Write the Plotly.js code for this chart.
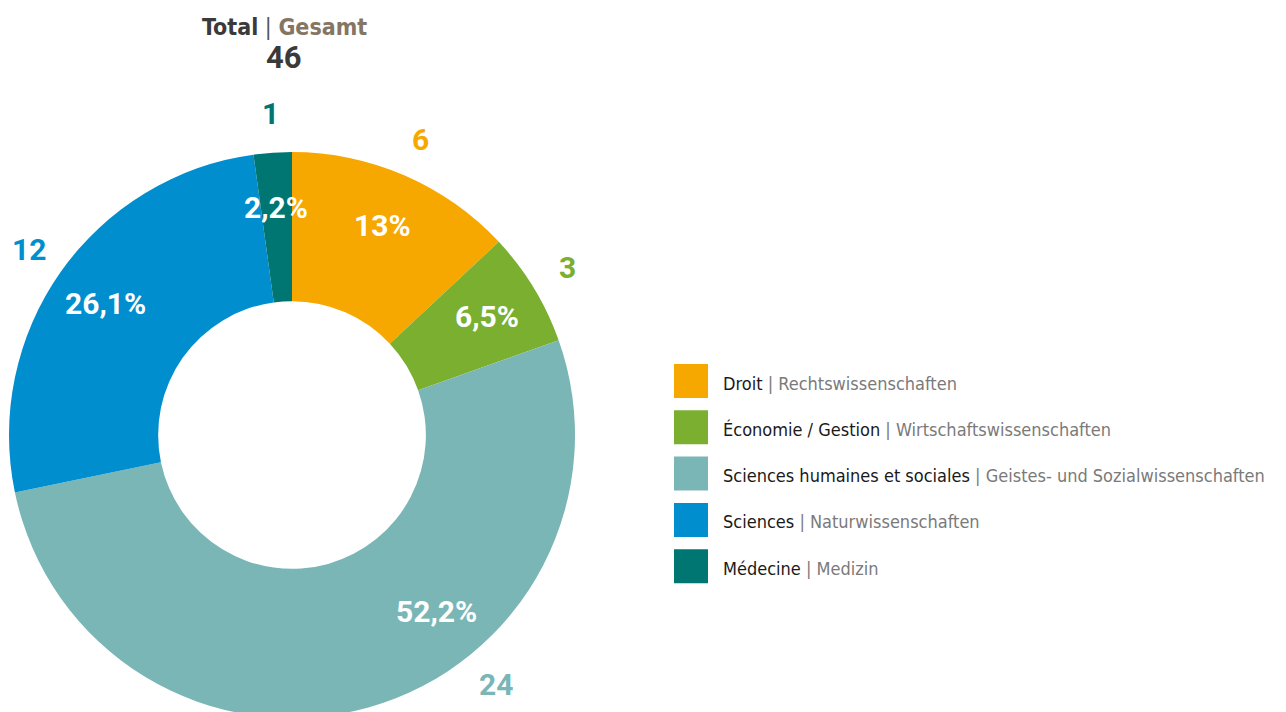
<!DOCTYPE html>
<html>
<head>
<meta charset="utf-8">
<script src="https://cdn.plot.ly/plotly-3.0.1.min.js"></script>
<style>
  html, body { margin: 0; padding: 0; overflow: hidden; background: #fff; }
  #chart { width: 1286px; height: 718px; }
</style>
</head>
<body>
<div id="chart"></div>
<script>
// ---- data ----
const categoriesFr = ["Droit", "Économie / Gestion", "Sciences humaines et sociales", "Sciences", "Médecine"];
const categoriesDe = ["Rechtswissenschaften", "Wirtschaftswissenschaften", "Geistes- und Sozialwissenschaften", "Naturwissenschaften", "Medizin"];
const counts = [6, 3, 24, 12, 1];
const colors = ["#F7A800", "#7AAF2F", "#7AB6B5", "#008ECE", "#007672"];
const titleFr = "Total";
const titleDe = "Gesamt";

// ---- layout constants ----
const W = 1286, H = 718;
const cx = 292, cy = 435, R = 283;
const rInside = 228, rOutside = 322;
const maxLabelY = 684;
const total = counts.reduce((a, b) => a + b, 0);

function fmtPct(v) {
  let s = (v / total * 100).toFixed(1);
  if (s.endsWith(".0")) s = s.slice(0, -2);
  return s.replace(".", ",") + "%";
}
function toPaper(px, py) { return { x: px / W, y: 1 - py / H }; }
function polar(angDeg, r) {
  const a = angDeg * Math.PI / 180;
  return toPaper(cx + r * Math.sin(a), cy - r * Math.cos(a));
}

const annotations = [];
let cum = 0;
counts.forEach((v, i) => {
  let mid = (cum + v / 2) / total * 360;
  cum += v;
  // keep labels inside the visible canvas
  const yOut = cy - rOutside * Math.cos(mid * Math.PI / 180);
  if (yOut > maxLabelY) {
    const c = (cy - maxLabelY) / rOutside;
    const lim = Math.acos(c) * 180 / Math.PI;
    mid = mid < 180 ? lim : 360 - lim;
  }
  const pin = polar(mid, rInside);
  annotations.push({
    x: pin.x, y: pin.y, xref: "paper", yref: "paper", showarrow: false,
    text: "<b>" + fmtPct(v) + "</b>",
    font: { family: "Roboto, 'Open Sans', sans-serif", size: 30, color: "#ffffff" },
    xanchor: "center", yanchor: "middle"
  });
  const pout = polar(mid, rOutside);
  annotations.push({
    x: pout.x, y: pout.y, xref: "paper", yref: "paper", showarrow: false,
    text: "<b>" + v + "</b>",
    font: { family: "Roboto, 'Open Sans', sans-serif", size: 30, color: colors[i] },
    xanchor: "center", yanchor: "middle"
  });
});

// title
const tp = toPaper(284, 27);
annotations.push({
  x: tp.x, y: tp.y, xref: "paper", yref: "paper", showarrow: false,
  text: "<b>" + titleFr + "</b> <span style='color:#555555'>|</span> <b><span style='color:#857563'>" + titleDe + "</span></b>",
  font: { family: "'Liberation Sans Narrow', 'DejaVu Sans Condensed', sans-serif", size: 23, color: "#3a3a3a" },
  xanchor: "center", yanchor: "middle"
});
const tt = toPaper(284, 57);
annotations.push({
  x: tt.x, y: tt.y, xref: "paper", yref: "paper", showarrow: false,
  text: "<b>" + total + "</b>",
  font: { family: "Roboto, sans-serif", size: 31, color: "#3a3a3a" },
  xanchor: "center", yanchor: "middle"
});

// custom legend
const shapes = [];
const legX0 = 674, legSize = 34, legY0 = 364, legStep = 46.3;
categoriesFr.forEach((c, i) => {
  const y0 = legY0 + i * legStep;
  const a = toPaper(legX0, y0), b = toPaper(legX0 + legSize, y0 + legSize);
  shapes.push({
    type: "rect", xref: "paper", yref: "paper",
    x0: a.x, x1: b.x, y0: b.y, y1: a.y,
    fillcolor: colors[i], line: { width: 0 }
  });
  const t = toPaper(legX0 + legSize + 13, y0 + legSize / 2 + 2);
  annotations.push({
    x: t.x, y: t.y, xref: "paper", yref: "paper", showarrow: false,
    text: c + " <span style='color:#7a7a7a'>| " + categoriesDe[i] + "</span>",
    font: { family: "'Liberation Sans Narrow', 'DejaVu Sans Condensed', sans-serif", size: 18, color: "#1a1a1a" },
    xanchor: "left", yanchor: "middle"
  });
});

const trace = {
  type: "pie",
  values: counts,
  labels: categoriesFr,
  marker: { colors: colors, line: { width: 0 } },
  hole: 0.473,
  sort: false,
  direction: "clockwise",
  rotation: 0,
  textinfo: "none",
  hoverinfo: "label+value+percent",
  domain: { x: [9 / W, 575 / W], y: [0, 1 - 152 / H] },
  showlegend: false
};

const layout = {
  width: W, height: H,
  margin: { l: 0, r: 0, t: 0, b: 0 },
  paper_bgcolor: "#ffffff",
  showlegend: false,
  annotations: annotations,
  shapes: shapes
};

Plotly.newPlot("chart", [trace], layout, { displayModeBar: false, staticPlot: true });
</script>
</body>
</html>
